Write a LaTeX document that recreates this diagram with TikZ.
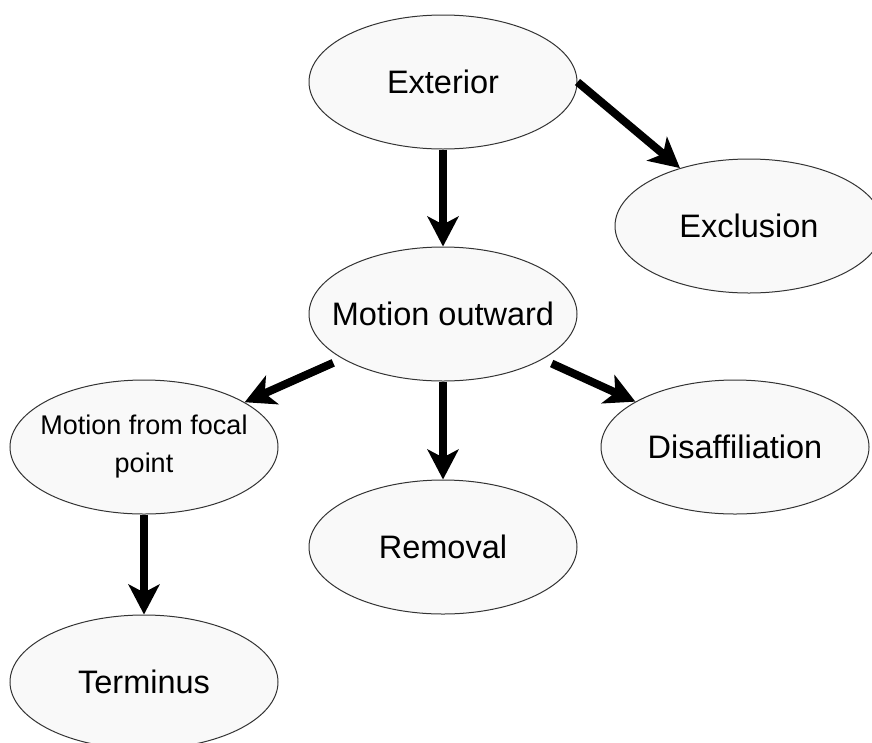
\documentclass[tikz,border=0pt]{standalone}
\usepackage{fontspec}
\setmainfont{Liberation Sans}
\usetikzlibrary{arrows.meta,shapes.geometric}

\definecolor{bubblefill}{HTML}{F9F9F9}
\definecolor{bubbleline}{HTML}{333333}

% label set in a zero-width box so every ellipse keeps the same size
\newcommand{\fixedlabel}[1]{\makebox[0pt]{#1}}
\newcommand{\twolinelabel}[1]{\makebox[0pt]{\parbox[c]{300pt}{\centering #1}}}

\tikzset{
  bubble/.style={ellipse, draw=bubbleline, line width=1pt, fill=bubblefill,
    minimum width=268pt, minimum height=134pt, inner sep=0pt,
    font=\fontsize{32.5}{39}\selectfont},
  smallbubble/.style={bubble, font=\fontsize{27}{38}\selectfont},
  link/.style={line width=8pt, draw=black,
    -{Stealth[length=30pt, width=31pt, inset=8pt]}},
}

\begin{document}
\begin{tikzpicture}[x=1pt, y=-1pt]
  \useasboundingbox (0,0) rectangle (872,742);

  % concepts
  \node[bubble] (ext)  at (443,82)  {\fixedlabel{Exterior}};
  \node[bubble] (exc)  at (749,226) {\fixedlabel{Exclusion}};
  \node[bubble] (mo)   at (443,314) {\fixedlabel{Motion outward}};
  \node[smallbubble] (mff) at (144,447) {\twolinelabel{Motion from focal\\point}};
  \node[bubble] (dis)  at (735,447) {\fixedlabel{Disaffiliation}};
  \node[bubble] (rem)  at (443,547) {\fixedlabel{Removal}};
  \node[bubble] (term) at (144,682) {\fixedlabel{Terminus}};

  % relations
  \draw[link] (ext.south) -- (mo.north);
  \draw[link] (ext.east) -- (exc.140);
  \draw[link, shorten <=10pt] (mo) -- (mff);
  \draw[link, shorten <=10pt] (mo) -- (dis);
  \draw[link] (mo.south) -- (rem.north);
  \draw[link] (mff.south) -- (term.north);
\end{tikzpicture}
\end{document}
